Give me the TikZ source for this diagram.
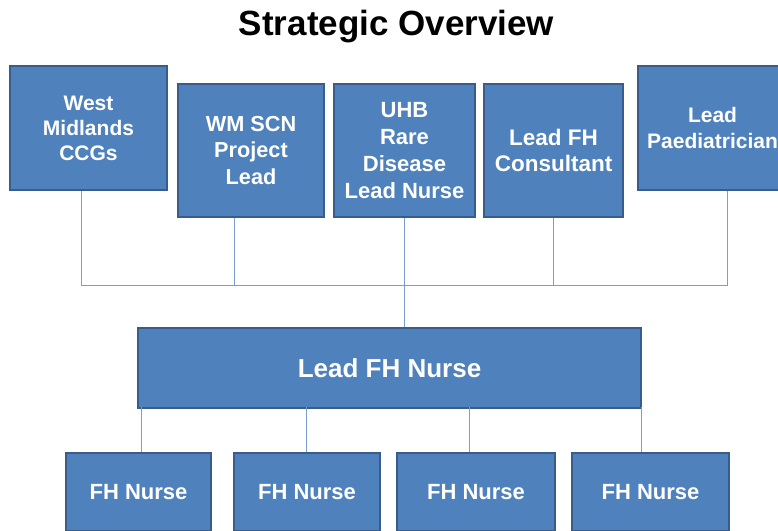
\documentclass[tikz,border=0pt]{standalone}
\usepackage{fontspec}
\setmainfont{Liberation Sans}
\usepackage{tikz}

\definecolor{boxblue}{RGB}{79,129,189}
\definecolor{boxedge}{RGB}{56,93,138}
\definecolor{linkblue}{RGB}{122,158,207}

\begin{document}
\begin{tikzpicture}[x=1pt,y=-1pt,
  post/.style={draw=boxedge,line width=1.5pt,fill=boxblue,text=white,
    font=\fontsize{21}{25}\selectfont\bfseries,align=center,inner sep=0pt},
  link/.style={draw=linkblue,line width=0.9pt}]
  \useasboundingbox (0,0) rectangle (778,530);
  \clip (0,0) rectangle (778,530);

  \node[anchor=base,font=\fontsize{35}{40}\selectfont\bfseries] (title) at (396.5,35) {Strategic Overview};

  % top row
  \node[post,minimum width=157,minimum height=124] (ccg) at (88.5,128) {West\\Midlands\\CCGs};
  \node[post,minimum width=146,minimum height=133,font=\fontsize{21.7}{26.2}\selectfont\bfseries] (scn) at (251,150.5) {WM SCN\\Project\\Lead};
  \node[post,minimum width=141,minimum height=133,font=\fontsize{22}{26.7}\selectfont\bfseries] (uhb) at (404.5,150.5) {UHB\\Rare\\Disease\\Lead Nurse};
  \node[post,minimum width=139,minimum height=133,font=\fontsize{22.5}{26}\selectfont\bfseries] (fhc) at (553.5,150.5) {Lead FH\\Consultant};
  \node[post,minimum width=149,minimum height=124,font=\fontsize{21}{26}\selectfont\bfseries] (paed) at (712.5,128) {Lead\\Paediatrician};

  % middle
  \node[post,minimum width=503,minimum height=80,font=\fontsize{26}{30}\selectfont\bfseries] (lead) at (389.5,368) {Lead FH Nurse};

  % bottom row
  \node[post,minimum width=145,minimum height=78,font=\fontsize{22}{26}\selectfont\bfseries] (nurseA) at (138.5,492) {FH Nurse};
  \node[post,minimum width=146,minimum height=78,font=\fontsize{22}{26}\selectfont\bfseries] (nurseB) at (307,492) {FH Nurse};
  \node[post,minimum width=158,minimum height=78,font=\fontsize{22}{26}\selectfont\bfseries] (nurseC) at (476,492) {FH Nurse};
  \node[post,minimum width=157,minimum height=78,font=\fontsize{22}{26}\selectfont\bfseries] (nurseD) at (650.5,492) {FH Nurse};

  % connectors
  \draw[link] ([xshift=-7.5pt]ccg.south) -- ++(0,95) -| ([xshift=14.5pt]paed.south);
  \draw[link] ([xshift=-17pt]scn.south) -- ++(0,68);
  \draw[link] (fhc.south) -- ++(0,68);
  \draw[link] (uhb.south) -- (uhb.south |- lead.north);
  \draw[link] ([xshift=2.5pt]nurseA.north) -- ++(0,-45);
  \draw[link] ([xshift=-1pt]nurseB.north) -- ++(0,-45);
  \draw[link] ([xshift=-7pt]nurseC.north) -- ++(0,-45);
  \draw[link] ([xshift=-9.5pt]nurseD.north) -- ++(0,-45);
\end{tikzpicture}
\end{document}
